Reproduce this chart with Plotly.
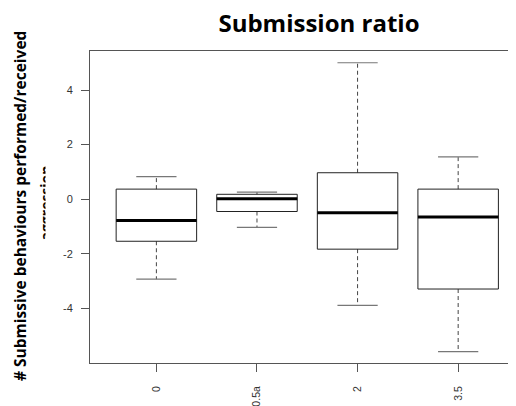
import plotly.graph_objects as go

# ---- data ----
categories = ["0", "0.5a", "2", "3.5"]
upper_whisker = [0.83, 0.26, 5.0, 1.55]
q3_values = [0.37, 0.18, 0.97, 0.37]
median_values = [-0.78, 0.02, -0.50, -0.65]
q1_values = [-1.54, -0.45, -1.83, -3.29]
lower_whisker = [-2.93, -1.03, -3.89, -5.58]
y_ticks = [-4, -2, 0, 2, 4]

# the page places the figure 8px from the top-left corner of the window
OFF = 8
W, H = 516 - OFF, 406 - OFF
ML, MR, MT, MB = 82, 0, 43, 43
PW, PH = W - ML - MR, H - MT - MB


def px_x(page_px):
    return (page_px - OFF - ML) / PW


def px_y(page_py):
    return (H - MB - (page_py - OFF)) / PH


half_box = 0.4
half_cap = 0.2

fig = go.Figure()
for i, cat in enumerate(categories):
    p = i + 1
    q1, q3, med = q1_values[i], q3_values[i], median_values[i]
    lo, hi = lower_whisker[i], upper_whisker[i]
    # whiskers (dashed)
    fig.add_trace(go.Scatter(
        x=[p, p, None, p, p], y=[q3, hi, None, q1, lo], mode="lines",
        line=dict(color="#444444", width=1, dash="4px,3px"),
        hoverinfo="skip", showlegend=False))
    # staples
    fig.add_trace(go.Scatter(
        x=[p - half_cap, p + half_cap, None, p - half_cap, p + half_cap],
        y=[hi, hi, None, lo, lo], mode="lines",
        line=dict(color="#777777", width=1.2),
        hoverinfo="skip", showlegend=False))
    # box
    fig.add_trace(go.Scatter(
        x=[p - half_box, p + half_box, p + half_box, p - half_box, p - half_box],
        y=[q1, q1, q3, q3, q1], mode="lines",
        line=dict(color="#222222", width=1),
        hoverinfo="skip", showlegend=False))
    # median
    fig.add_trace(go.Scatter(
        x=[p - half_box, p + half_box], y=[med, med], mode="lines",
        line=dict(color="#000000", width=3),
        hoverinfo="skip", showlegend=False))

fig.update_layout(
    width=W, height=H, autosize=False,
    margin=dict(l=ML, r=MR, t=MT, b=MB, pad=0, autoexpand=False),
    paper_bgcolor="white", plot_bgcolor="white",
    showlegend=False,
    title=dict(text="<b>Submission ratio</b>", x=(319 - OFF) / W, xanchor="center",
               y=1 - (24 - OFF) / H, yanchor="middle",
               font=dict(family="Open Sans", size=24, color="#000000")),
    xaxis=dict(range=[0.34, 4.575], tickmode="array", automargin=False,
               tickvals=[1, 2, 3, 4], ticktext=categories,
               tickangle=-90, ticks="outside", ticklen=8, tickcolor="#555555",
               showline=True, linecolor="#555555", linewidth=1, mirror=True,
               showgrid=False, zeroline=False, ticklabelstandoff=10,
               tickfont=dict(family="Liberation Sans", size=10.5, color="#333333")),
    yaxis=dict(range=[-6.0, 5.43], tickmode="array", tickvals=y_ticks,
               ticktext=[str(v) for v in y_ticks], automargin=False,
               ticks="outside", ticklen=8, tickcolor="#555555",
               showline=True, linecolor="#555555", linewidth=1, mirror=False,
               showgrid=False, zeroline=False, ticklabelstandoff=6,
               tickfont=dict(family="Liberation Sans", size=11, color="#333333")),
)

fig.add_annotation(
    text="<b># Submissive behaviours performed/received</b>",
    xref="paper", yref="paper", x=px_x(20), y=px_y(206),
    xanchor="center", yanchor="middle", textangle=-90, showarrow=False,
    font=dict(family="Open Sans", size=15.5, color="#000000"))
fig.add_annotation(
    text="<b>aggression</b>",
    xref="paper", yref="paper", x=px_x(33), y=px_y(203),
    xanchor="left", yanchor="middle", textangle=-90, showarrow=False,
    font=dict(family="Open Sans", size=14, color="#000000"))
# the reference shows this second line clipped; cover the rest of it
fig.add_annotation(
    text=" ", xref="paper", yref="paper", x=px_x(45), y=px_y(203),
    xanchor="left", yanchor="middle", showarrow=False,
    width=14, height=110, bgcolor="white", borderpad=0,
    font=dict(size=10))

fig.write_html("out.html")
